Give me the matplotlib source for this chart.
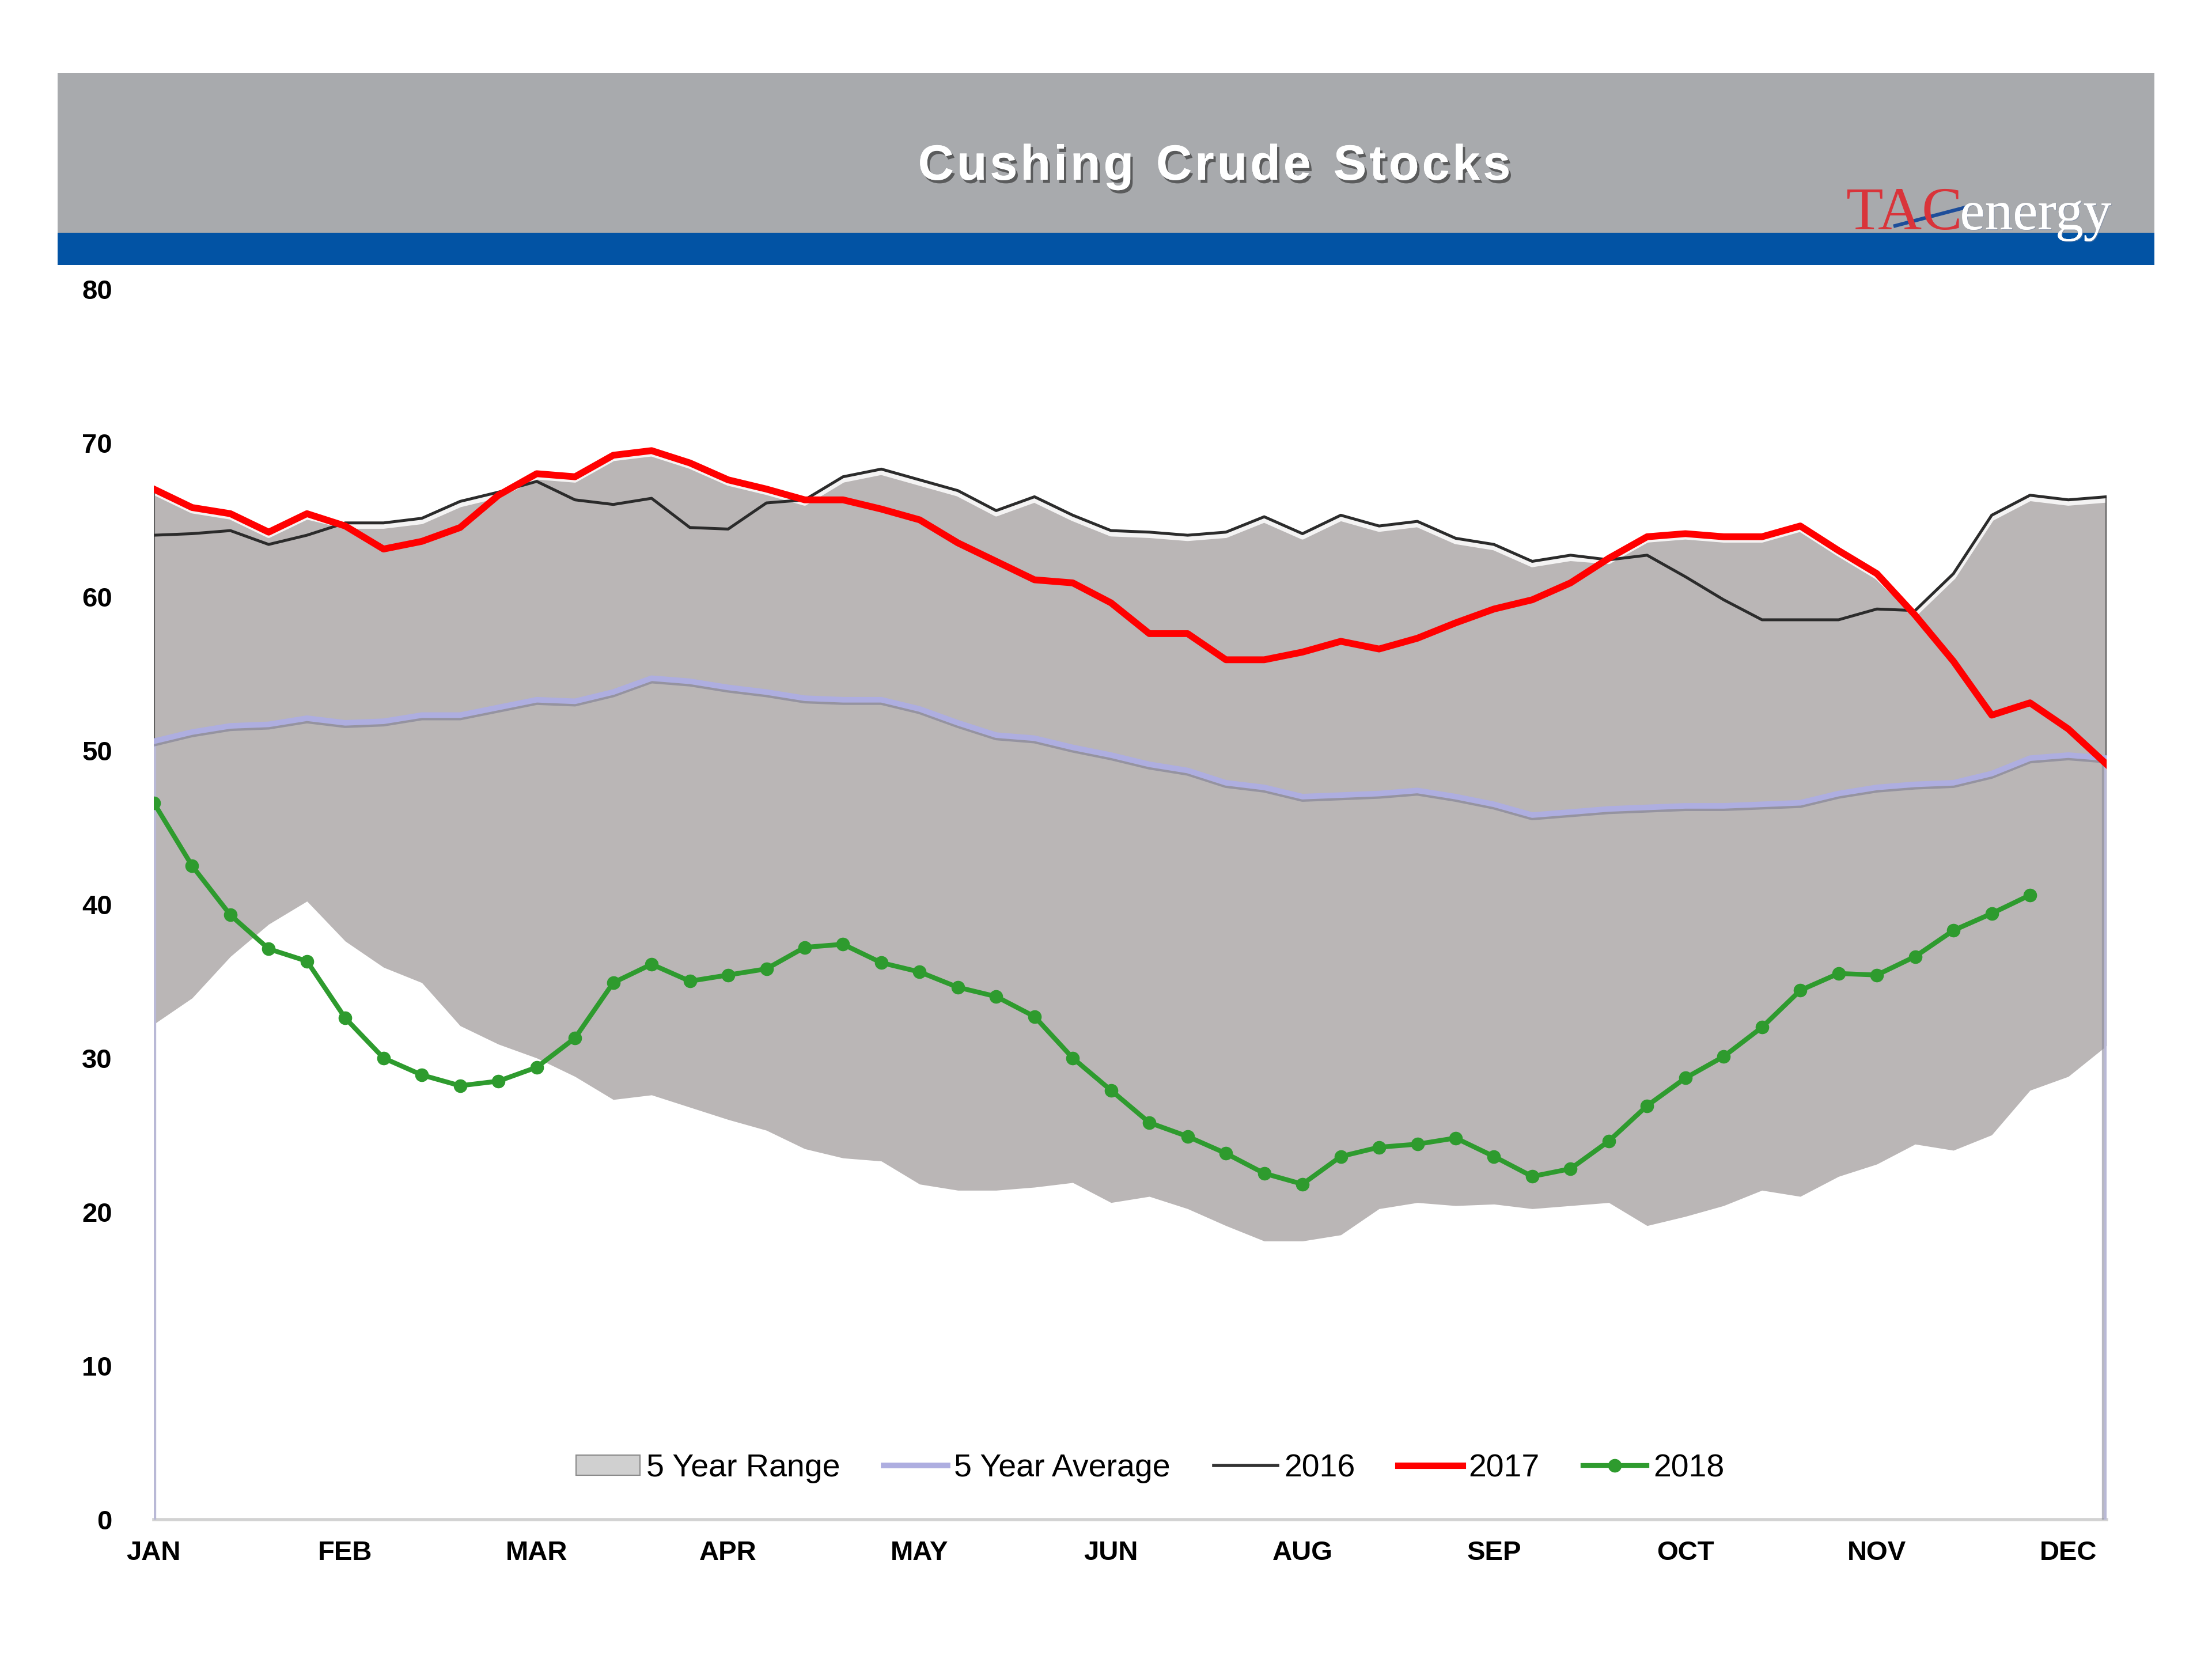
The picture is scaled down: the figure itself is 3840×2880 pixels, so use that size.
import numpy as np
import matplotlib
matplotlib.use("Agg")
import matplotlib.pyplot as plt
import matplotlib.patheffects as pe
import matplotlib.transforms as mtransforms
from matplotlib.patches import Rectangle, Patch
from matplotlib.lines import Line2D

plt.rcParams['font.family'] = ['Liberation Sans', 'DejaVu Sans']

# ---------------- data (weekly, million barrels) ----------------
month_labels = ["JAN", "FEB", "MAR", "APR", "MAY", "JUN", "AUG", "SEP", "OCT", "NOV", "DEC"]

range_max = [67.0, 65.8, 65.4, 64.2, 65.4, 64.8, 64.8, 65.1, 66.2, 66.8,
             68.0, 67.8, 69.2, 69.5, 68.7, 67.6, 67.0, 66.3, 67.8, 68.3,
             67.6, 66.9, 65.6, 66.5, 65.3, 64.3, 64.2, 64.0, 64.2, 65.2,
             64.1, 65.3, 64.6, 64.9, 63.8, 63.4, 62.3, 62.7, 62.5, 63.9,
             64.1, 63.9, 63.9, 64.6, 63.0, 61.5, 59.1, 61.5, 65.3, 66.6,
             66.3, 66.5]
range_min = [32.2, 33.9, 36.6, 38.7, 40.2, 37.6, 35.9, 34.9, 32.1, 30.9,
             30.0, 28.8, 27.3, 27.6, 26.8, 26.0, 25.3, 24.1, 23.5, 23.3,
             21.8, 21.4, 21.4, 21.6, 21.9, 20.6, 21.0, 20.2, 19.1, 18.1,
             18.1, 18.5, 20.2, 20.6, 20.4, 20.5, 20.2, 20.4, 20.6, 19.1,
             19.7, 20.4, 21.4, 21.0, 22.3, 23.1, 24.4, 24.0, 25.0, 27.9,
             28.8, 30.8]
avg_5yr = [50.6, 51.2, 51.6, 51.7, 52.1, 51.8, 51.9, 52.3, 52.3, 52.8,
           53.3, 53.2, 53.8, 54.7, 54.5, 54.1, 53.8, 53.4, 53.3, 53.3,
           52.7, 51.8, 51.0, 50.8, 50.2, 49.7, 49.1, 48.7, 47.9, 47.6,
           47.0, 47.1, 47.2, 47.4, 47.0, 46.5, 45.8, 46.0, 46.2, 46.3,
           46.4, 46.4, 46.5, 46.6, 47.2, 47.6, 47.8, 47.9, 48.5, 49.5,
           49.7, 49.5]
y2016 = [64.0, 64.1, 64.3, 63.4, 64.0, 64.8, 64.8, 65.1, 66.2, 66.8,
         67.5, 66.3, 66.0, 66.4, 64.5, 64.4, 66.1, 66.3, 67.8, 68.3,
         67.6, 66.9, 65.6, 66.5, 65.3, 64.3, 64.2, 64.0, 64.2, 65.2,
         64.1, 65.3, 64.6, 64.9, 63.8, 63.4, 62.3, 62.7, 62.4, 62.7,
         61.3, 59.8, 58.5, 58.5, 58.5, 59.2, 59.1, 61.5, 65.3, 66.6,
         66.3, 66.5]
y2017 = [67.0, 65.8, 65.4, 64.2, 65.4, 64.6, 63.1, 63.6, 64.5, 66.6,
         68.0, 67.8, 69.2, 69.5, 68.7, 67.6, 67.0, 66.3, 66.3, 65.7,
         65.0, 63.5, 62.3, 61.1, 60.9, 59.6, 57.6, 57.6, 55.9, 55.9,
         56.4, 57.1, 56.6, 57.3, 58.3, 59.2, 59.8, 60.9, 62.5, 63.9,
         64.1, 63.9, 63.9, 64.6, 63.0, 61.5, 58.8, 55.8, 52.3, 53.1,
         51.4, 49.1]
y2018 = [46.6, 42.5, 39.3, 37.1, 36.3, 32.6, 30.0, 28.9, 28.2, 28.5,
         29.4, 31.3, 34.9, 36.1, 35.0, 35.4, 35.8, 37.2, 37.4, 36.2,
         35.6, 34.6, 34.0, 32.7, 30.0, 27.9, 25.8, 24.9, 23.8, 22.5,
         21.8, 23.6, 24.2, 24.4, 24.8, 23.6, 22.3, 22.8, 24.6, 26.9,
         28.7, 30.1, 32.0, 34.4, 35.5, 35.4, 36.6, 38.3, 39.4, 40.6]

weeks = np.arange(len(range_max))
weeks18 = np.arange(len(y2018))

# ---------------- figure ----------------
W, H = 3840, 2880
fig = plt.figure(figsize=(W / 100, H / 100), dpi=100)
fig.patch.set_facecolor('white')

# header bands
fig.add_artist(Rectangle((100 / W, 1 - 404 / H), 3640 / W, 277 / H,
                         transform=fig.transFigure, facecolor='#A8AAAD',
                         edgecolor='none', zorder=0))
fig.add_artist(Rectangle((100 / W, 1 - 460 / H), 3640 / W, 56 / H,
                         transform=fig.transFigure, facecolor='#0253A4',
                         edgecolor='none', zorder=0))

renderer = fig.canvas.get_renderer()

# letter-spaced title
title = "Cushing Crude Stocks"
tprops = dict(fontsize=62, fontweight='bold', color='white', va='center', ha='left',
              path_effects=[pe.withSimplePatchShadow(offset=(3, -4), shadow_rgbFace='#3A3A3A', alpha=0.7),
                            pe.Normal()])
spacing = 5
widths = []
for ch in title:
    if ch == ' ':
        tt = fig.text(0, 0, 'n', fontsize=62, fontweight='bold')
        widths.append(tt.get_window_extent(renderer).width * 0.55)
    else:
        tt = fig.text(0, 0, ch, fontsize=62, fontweight='bold')
        widths.append(tt.get_window_extent(renderer).width)
    tt.remove()
total = sum(widths) + spacing * (len(title) - 1)
xpos = 2108 - total / 2
for ch, w in zip(title, widths):
    if ch != ' ':
        fig.text(xpos / W, 1 - 290 / H, ch, **tprops)
    xpos += w + spacing

# logo
t1 = fig.text(3204 / W, 1 - 398 / H, "TAC", ha='left', va='baseline',
              fontsize=76, family='Liberation Serif', color='#D9343A')
bb = t1.get_window_extent(renderer)
fig.text((bb.x1 - 4) / W, 1 - 398 / H, "energy", ha='left', va='baseline',
         fontsize=70, family='Liberation Serif', color='white',
         path_effects=[pe.withSimplePatchShadow(offset=(1, -1), shadow_rgbFace='#7A8AA8', alpha=0.5),
                       pe.Normal()])
fig.add_artist(Line2D([3290 / W, 3412 / W], [1 - 392 / H, 1 - 360 / H],
                      transform=fig.transFigure, color='#1D4E9A', lw=4.5))

# axes
ax = fig.add_axes([267 / W, 1 - 2637.6 / H, (3657 - 267) / W, (2637.6 - 502) / H])
ax.set_facecolor('none')
ax.set_xlim(weeks[0], weeks[-1])
ax.set_ylim(0, 80)
for s in ['top', 'right', 'left']:
    ax.spines[s].set_visible(False)
ax.spines['bottom'].set_color('#D2D2D2')
ax.spines['bottom'].set_linewidth(4)
ax.spines['bottom'].set_zorder(0.5)

# 5-year range
ax.fill_between(weeks, range_min, range_max, color='#BAB6B6', lw=0, zorder=1)
hl = mtransforms.offset_copy(ax.transData, fig=fig, x=0, y=-6, units='dots')
ax.plot(weeks, range_max, color='white', lw=6, alpha=0.85, transform=hl, zorder=2,
        solid_capstyle='butt')
ax.vlines([weeks[0], weeks[-1]], [range_min[0], range_min[-1]], [range_max[0], range_max[-1]],
          color='#606060', lw=3, zorder=2)

# 5-year average
ax.vlines([weeks[0], weeks[-1]], 0, [avg_5yr[0], avg_5yr[-1]], color='#B9B9D6', lw=6, zorder=3,
          path_effects=[pe.SimpleLineShadow(offset=(-3, 0), shadow_color='#8A8A9A', alpha=0.6), pe.Normal()])
ax.plot(weeks, avg_5yr, color='#AEAEE0', lw=7, zorder=3,
        path_effects=[pe.SimpleLineShadow(offset=(0, -3), shadow_color='#77778F', alpha=0.55), pe.Normal()])

ax.plot(weeks, y2016, color='#2B2B2B', lw=3.6, zorder=4)
ax.plot(weeks, y2017, color='#FF0000', lw=8.5, zorder=5, solid_joinstyle='round')
ax.plot(weeks18, y2018, color='#2E9B2E', lw=6, marker='o', markersize=16, zorder=6)

# ticks
ax.set_xticks(weeks[::5])
ax.set_xticklabels(month_labels)
ax.set_yticks(np.arange(0, 81, 10))
ax.tick_params(axis='both', length=0)
ax.tick_params(axis='x', pad=26)
ax.tick_params(axis='y', pad=52)
for lab in ax.get_xticklabels() + ax.get_yticklabels():
    lab.set_fontweight('bold')
    lab.set_fontsize(34)
    lab.set_color('black')

# legend
handles = [Patch(facecolor='#D0D0D0', edgecolor='#8A8A8A', lw=1.5),
           Line2D([], [], color='#AEAEE0', lw=7),
           Line2D([], [], color='#333333', lw=4),
           Line2D([], [], color='#FF0000', lw=8),
           Line2D([], [], color='#2E9B2E', lw=6, marker='o', markersize=16)]
labels = ["5 Year Range", "5 Year Average", "2016", "2017", "2018"]
fig.legend(handles, labels, loc='center', bbox_to_anchor=(0.52, 1 - 2549 / H), ncol=5,
           frameon=False, fontsize=40, handlelength=2.0, handletextpad=0.2,
           columnspacing=1.35, numpoints=1, handleheight=0.6)

fig.savefig("out.png", dpi=100, facecolor='white')
